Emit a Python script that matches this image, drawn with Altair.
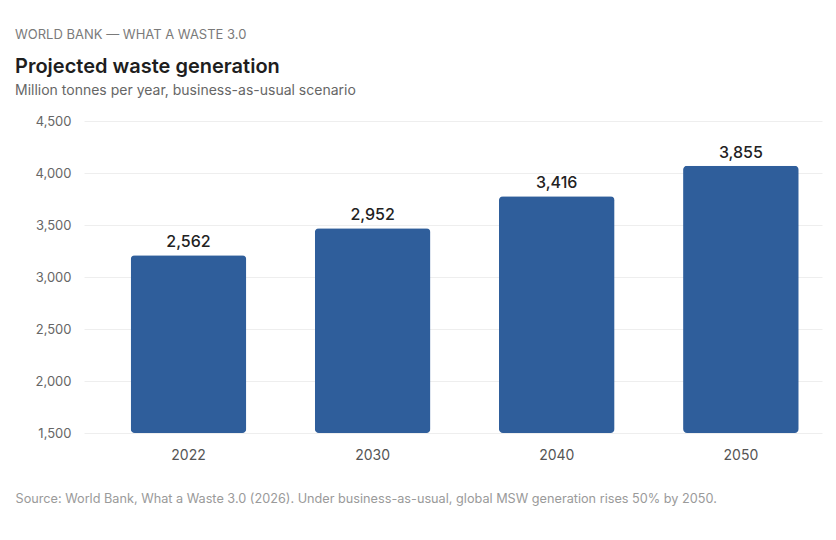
import altair as alt
import pandas as pd

# ---- data ----
years = ["2022", "2030", "2040", "2050"]
values = [2562, 2952, 3416, 3855]
axis_ticks = [1500, 2000, 2500, 3000, 3500, 4000, 4500]

kicker = "WORLD BANK — WHAT A WASTE 3.0"
title_text = "Projected waste generation"
subtitle_text = "Million tonnes per year, business-as-usual scenario"
source_text = ("Source: World Bank, What a Waste 3.0 (2026). Under business-as-usual, "
               "global MSW generation rises 50% by 2050.")

df = pd.DataFrame({"year": years, "value": values})
ticks_df = pd.DataFrame({"tick": axis_ticks})

FONT = "Inter"
BAR_SCALE = alt.Scale(domain=[0, 4500], nice=False)

x_enc = alt.X(
    "year:N",
    sort=years,
    scale=alt.Scale(paddingInner=0.372, paddingOuter=0.19, align=0.667),
    axis=alt.Axis(
        title=source_text,
        labelAngle=0,
        labelFontSize=14,
        labelColor="#555555",
        labelPadding=15,
        labelFont=FONT,
        domain=False,
        ticks=False,
        grid=False,
        titleFont=FONT,
        titleFontSize=12.7,
        titleFontWeight="normal",
        titleColor="#9A9A9A",
        titleAnchor="start",
        titleAlign="left",
        titleBaseline="middle",
        titleX=-69,
        titleY=65,
    ),
)

bars = alt.Chart(df).mark_bar(color="#2F5E9B", cornerRadius=4).encode(
    x=x_enc,
    y=alt.Y("value:Q", scale=BAR_SCALE, axis=None),
)

labels = alt.Chart(df).mark_text(
    baseline="bottom", dy=-5, fontSize=16, fontWeight=500, color="#222222", font=FONT
).encode(
    x=alt.X("year:N", sort=years),
    y=alt.Y("value:Q", scale=BAR_SCALE, axis=None),
    text=alt.Text("value:Q", format=","),
)

axis_layer = alt.Chart(ticks_df).mark_point(opacity=0).encode(
    y=alt.Y(
        "tick:Q",
        scale=alt.Scale(domain=[1500, 4500], nice=False, zero=False),
        axis=alt.Axis(
            orient="left",
            values=axis_ticks,
            format=",.0f",
            grid=True,
            gridColor="#EEEEEE",
            ticks=False,
            domain=False,
            labelFont=FONT,
            labelFontSize=13,
            labelColor="#666666",
            labelPadding=13,
            minExtent=69,
            title=None,
        ),
    )
)

inner = (
    alt.layer(bars, labels, axis_layer)
    .resolve_scale(y="independent")
    .properties(
        width=738,
        height=312,
        title=alt.TitleParams(
            text=title_text,
            subtitle=subtitle_text,
            anchor="start",
            frame="bounds",
            font=FONT,
            fontSize=20,
            fontWeight=600,
            color="#1E1E1E",
            subtitleFont=FONT,
            subtitleFontSize=14,
            subtitleColor="#666666",
            subtitlePadding=7.5,
            offset=17,
        ),
    )
)

chart = (
    alt.vconcat(
        inner,
        title=alt.TitleParams(
            text=kicker,
            anchor="start",
            frame="bounds",
            font=FONT,
            fontSize=13,
            fontWeight=400,
            color="#7A7A7A",
            offset=15,
        ),
    )
    .properties(padding={"left": 15, "top": 28, "right": 14, "bottom": 20})
    .configure(font=FONT)
    .configure_view(strokeWidth=0, stroke="transparent")
)

chart.save("out.html", embed_options={"renderer": "svg", "actions": False})
